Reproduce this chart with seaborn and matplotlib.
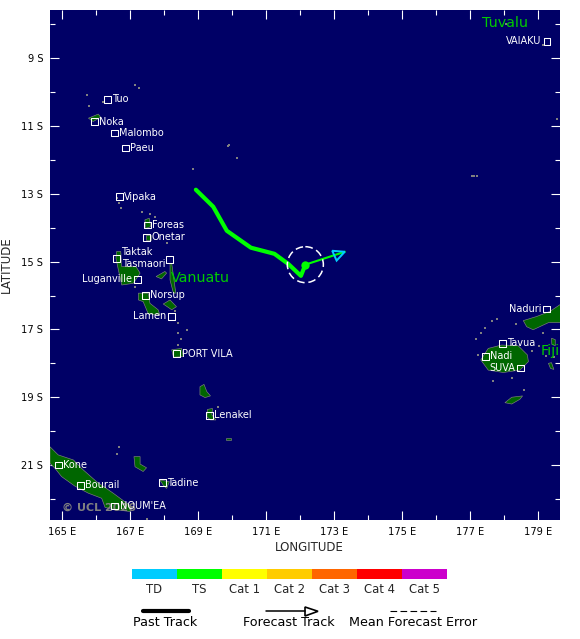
import matplotlib
matplotlib.use("Agg")
import matplotlib.pyplot as plt
import seaborn as sns
import numpy as np
from matplotlib.colors import ListedColormap
from matplotlib.patches import Circle

# storm track, lon E / lat S
past_lon = [168.93, 169.44, 169.84, 170.55, 171.24, 171.65, 172.02, 172.15]
past_lat = [12.88, 13.38, 14.09, 14.59, 14.77, 15.07, 15.42, 15.09]
forecast_lon = [172.15, 173.31]
forecast_lat = [15.09, 14.71]
head_lon = [172.94, 173.31, 173.07]
head_lat = [14.68, 14.71, 14.97]
error_radius = 0.53

# towns
town_names = ["Tuo", "Noka", "Malombo", "Paeu", "Vipaka", "Foreas", "Onetar", "Taktak",
              "Tasmaori", "Luganville", "Norsup", "Lamen", "PORT VILA", "Lenakel", "Kone",
              "Bourail", "NOUM'EA", "Tadine", "Naduri", "Tavua", "Nadi", "SUVA", "VAIAKU"]
town_lon = [166.32, 165.94, 166.53, 166.85, 166.68, 167.50, 167.48, 166.59,
            168.15, 167.21, 167.44, 168.22, 168.35, 169.32, 164.88,
            165.53, 166.54, 167.94, 179.24, 177.94, 177.44, 178.47, 179.26]
town_lat = [10.21, 10.88, 11.21, 11.65, 13.08, 13.92, 14.28, 14.90,
            14.94, 15.52, 15.99, 16.61, 17.72, 19.53, 21.00,
            21.60, 22.21, 21.52, 16.40, 17.41, 17.79, 18.14, 8.50]
# labels that do not sit just right of their box, offset in pixels
label_left = {"Tasmaori": (-4, -4), "Luganville": (-5, 0), "Lamen": (-5, 0),
              "Naduri": (-5, 0), "SUVA": (-5, 0), "VAIAKU": (-6, 0)}
label_right = {"Taktak": (5, 6), "PORT VILA": (6, 0)}

# land
new_caledonia = ([164.64, 164.88, 165.33, 165.57, 166.01, 166.50, 167.04, 166.99, 166.60, 166.26,
                  166.16, 165.77, 165.37, 164.98, 164.79, 164.64],
                 [20.46, 20.70, 20.85, 21.10, 21.49, 21.83, 22.23, 22.37, 22.32, 22.25,
                  21.98, 21.83, 21.62, 21.34, 21.10, 20.95])
lifou = ([167.11, 167.29, 167.29, 167.48, 167.38, 167.14], [20.75, 20.75, 20.97, 21.08, 21.19, 21.05])
mare = ([167.87, 168.15, 168.07, 167.97], [21.44, 21.49, 21.69, 21.59])
erromango = ([169.05, 169.17, 169.25, 169.36, 169.20, 169.05], [18.69, 18.62, 18.83, 18.96, 19.01, 18.93])
tanna = ([169.27, 169.42, 169.40, 169.52, 169.36, 169.25], [19.36, 19.33, 19.52, 19.67, 19.67, 19.57])
aneityum = ([169.81, 169.95, 169.95, 169.81], [20.19, 20.19, 20.25, 20.25])
santo = ([166.60, 166.72, 166.75, 167.17, 167.29, 167.09, 166.75, 166.65, 166.58],
         [14.70, 14.70, 15.15, 15.15, 15.34, 15.64, 15.69, 15.24, 14.90])
malekula = ([167.24, 167.53, 167.58, 167.82, 167.87, 167.53, 167.38, 167.24],
            [15.93, 15.93, 16.23, 16.42, 16.57, 16.54, 16.18, 16.13])
ambae = ([167.76, 168.02, 168.07, 167.92], [15.44, 15.29, 15.34, 15.51])
pentecost = ([168.17, 168.22, 168.34, 168.27, 168.17], [15.05, 15.05, 15.93, 15.93, 15.54])
ambrym = ([167.97, 168.17, 168.36, 168.22], [16.25, 16.13, 16.33, 16.42])
efate = ([168.22, 168.51, 168.56, 168.27], [17.60, 17.56, 17.80, 17.82])
gaua = ([167.43, 167.56, 167.60, 167.46], [13.77, 13.72, 13.97, 14.02])
onetar_isl = ([167.46, 167.61, 167.61, 167.46], [14.21, 14.21, 14.36, 14.36])
santa_cruz = ([165.77, 166.06, 166.13, 165.91], [10.77, 10.65, 10.74, 10.87])
viti_levu = ([177.31, 177.53, 177.92, 178.41, 178.68, 178.71, 178.46, 177.97, 177.53],
             [17.90, 17.56, 17.46, 17.48, 17.75, 17.95, 18.20, 18.27, 18.20])
vanua_levu = ([178.56, 178.95, 179.34, 179.70, 179.70, 179.30, 178.85, 178.66],
              [16.74, 16.62, 16.47, 16.23, 16.80, 16.80, 17.01, 16.92])
taveuni = ([179.30, 179.39, 179.46, 179.36], [18.00, 17.98, 18.18, 18.15])
kadavu = ([178.02, 178.22, 178.54, 178.46, 178.22], [19.16, 19.00, 18.96, 19.06, 19.20])
koro = ([179.39, 179.50, 179.50, 179.40], [17.26, 17.30, 17.48, 17.44])
islands = [new_caledonia, lifou, mare, erromango, tanna, aneityum, santo, malekula, ambae,
           pentecost, ambrym, efate, gaua, onetar_isl, santa_cruz, viti_levu, vanua_levu,
           taveuni, kadavu, koro]

islet_lon = [166.21, 165.72, 165.79, 167.14, 167.27, 168.85, 169.90, 166.60, 166.67, 166.74,
             167.36, 167.58, 167.74, 168.07, 168.41, 168.66, 168.41, 168.48, 168.39, 168.31,
             167.14, 169.87, 170.14, 166.67, 166.60, 167.50, 169.59, 177.05, 177.12, 177.20,
             179.55, 179.14, 178.81, 178.34, 177.63, 177.80, 177.43, 177.32, 177.17, 177.24,
             177.68, 178.22, 178.58, 179.15, 179.02, 179.23, 179.47, 178.05]
islet_lat = [10.28, 10.08, 10.40, 9.78, 9.89, 12.27, 11.57, 13.13, 13.26, 13.43,
             13.53, 13.60, 13.67, 14.44, 16.82, 17.03, 17.11, 17.27, 17.46, 16.45,
             15.74, 11.59, 11.95, 20.47, 20.68, 22.60, 19.30, 12.47, 12.47, 12.47,
             10.79, 8.61, 17.65, 16.84, 16.74, 16.68, 16.95, 17.11, 17.29, 17.75,
             18.52, 18.42, 18.78, 17.11, 17.48, 17.78, 17.82, 8.00]

# country names
country_names = ["Tuvalu", "Vanuatu", "Fiji"]
country_lon = [178.02, 169.05, 179.34]
country_lat = [7.96, 15.48, 17.63]

# intensity scale
scale_labels = ["TD", "TS", "Cat 1", "Cat 2", "Cat 3", "Cat 4", "Cat 5"]
scale_colors = ["#00ccff", "#00ff00", "#ffff00", "#ffcc00", "#ff6600", "#ff0000", "#cc00cc"]

OCEAN = "#000066"
LAND = "#006600"
SHORE = "#808080"

sns.set_style("white")
plt.rcParams["font.family"] = ["DejaVu Sans"]

W, H = 580, 639
fig = plt.figure(figsize=(W / 100, H / 100), dpi=100)
ax = fig.add_axes([50 / W, (H - 520) / H, 510 / W, 510 / H])
ax.set_facecolor(OCEAN)
for s in ax.spines.values():
    s.set_visible(False)

for lon, lat in islands:
    ax.fill(lon, lat, facecolor=LAND, edgecolor=SHORE, linewidth=0.45, zorder=2)
ax.scatter(islet_lon, islet_lat, marker="s", s=3.5, color=SHORE, linewidths=0, zorder=2)

ax.text(164.98, 22.26, "© UCL 2026", color="#808080", fontsize=8, fontweight="bold",
        ha="left", va="center", zorder=3)

# track
sns.lineplot(x=past_lon, y=past_lat, sort=False, estimator=None, color="#00ff00", linewidth=3,
             solid_capstyle="round", ax=ax, zorder=5)
sns.lineplot(x=forecast_lon, y=forecast_lat, sort=False, estimator=None, color="#00ff00", linewidth=1.5,
             ax=ax, zorder=5)
ax.fill(head_lon, head_lat, facecolor="none", edgecolor="#00ccff", linewidth=1.4, zorder=6)
sns.scatterplot(x=[past_lon[-1]], y=[past_lat[-1]], color="#00ff00", s=36, linewidth=0, ax=ax, zorder=6)
ax.add_patch(Circle((past_lon[-1], past_lat[-1]), error_radius, fill=False, edgecolor="white",
                    linewidth=1.1, linestyle=(0, (5, 2.5)), zorder=6))

# towns
sns.scatterplot(x=town_lon, y=town_lat, marker="s", s=24, facecolor="none", edgecolor="white",
                linewidth=0.75, ax=ax, zorder=7, clip_on=False)
for name, lon, lat in zip(town_names, town_lon, town_lat):
    if name in label_left:
        off, ha = label_left[name], "right"
    else:
        off, ha = label_right.get(name, (5, 0)), "left"
    ax.annotate(name, (lon, lat), xytext=(off[0] * 0.72, off[1] * 0.72), textcoords="offset points",
                color="white", fontsize=7, ha=ha, va="center", zorder=8)

for name, lon, lat in zip(country_names, country_lon, country_lat):
    ax.text(lon, lat, name, color="#00cc00", fontsize=10.3, ha="center", va="center", zorder=8, clip_on=True)

ax.set_xlim(164.64, 179.64)
ax.set_ylim(22.62, 7.58)
ax.set_xticks(np.arange(165, 180, 2))
ax.set_xticklabels([f"{v} E" for v in range(165, 180, 2)])
ax.set_xticks(np.arange(166, 180, 2), minor=True)
ax.set_yticks(np.arange(9, 22, 2))
ax.set_yticklabels([f"{v} S" for v in range(9, 22, 2)])
ax.set_yticks(np.arange(8, 23, 2), minor=True)
ax.tick_params(which="major", direction="in", length=6.5, width=0.8, color="white",
               labelcolor="black", labelsize=7.1, pad=5, top=True, right=True, bottom=True, left=True)
ax.tick_params(which="minor", direction="in", length=3.6, width=0.8, color="white",
               top=True, right=True, bottom=True, left=True)
ax.set_xlabel("LONGITUDE", fontsize=8.5)
ax.set_ylabel("LATITUDE", fontsize=8.5)
ax.xaxis.set_label_coords(0.508, -0.042)
ax.yaxis.set_label_coords(-0.0725, 0.5)
ax.grid(False)

# colour scale
cax = fig.add_axes([132 / W, (H - 579) / H, 315 / W, 10 / H])
sns.heatmap(np.arange(len(scale_labels)).reshape(1, -1), cmap=ListedColormap(scale_colors), cbar=False,
            xticklabels=scale_labels, yticklabels=False, ax=cax)
cax.tick_params(axis="x", length=0, labelsize=8.4, pad=3, labelrotation=0)

# track key, in figure pixels
lax = fig.add_axes([0, 0, 1, 1], facecolor="none")
lax.set_xlim(0, W)
lax.set_ylim(H, 0)
lax.axis("off")
lax.plot([143, 189], [611, 611], color="black", linewidth=3, solid_capstyle="round")
lax.plot([266, 305], [611, 611], color="black", linewidth=1.1)
lax.fill([305, 318, 305], [607, 611.3, 616], facecolor="white", edgecolor="black", linewidth=1.2)
lax.plot([390, 436], [611, 611], color="black", linewidth=0.8, linestyle=(0, (6, 3)))
for x, txt in zip([165, 288.5, 413], ["Past Track", "Forecast Track", "Mean Forecast Error"]):
    lax.text(x, 623, txt, fontsize=9.2, ha="center", va="center", color="black")

fig.savefig("out.png", dpi=100)
